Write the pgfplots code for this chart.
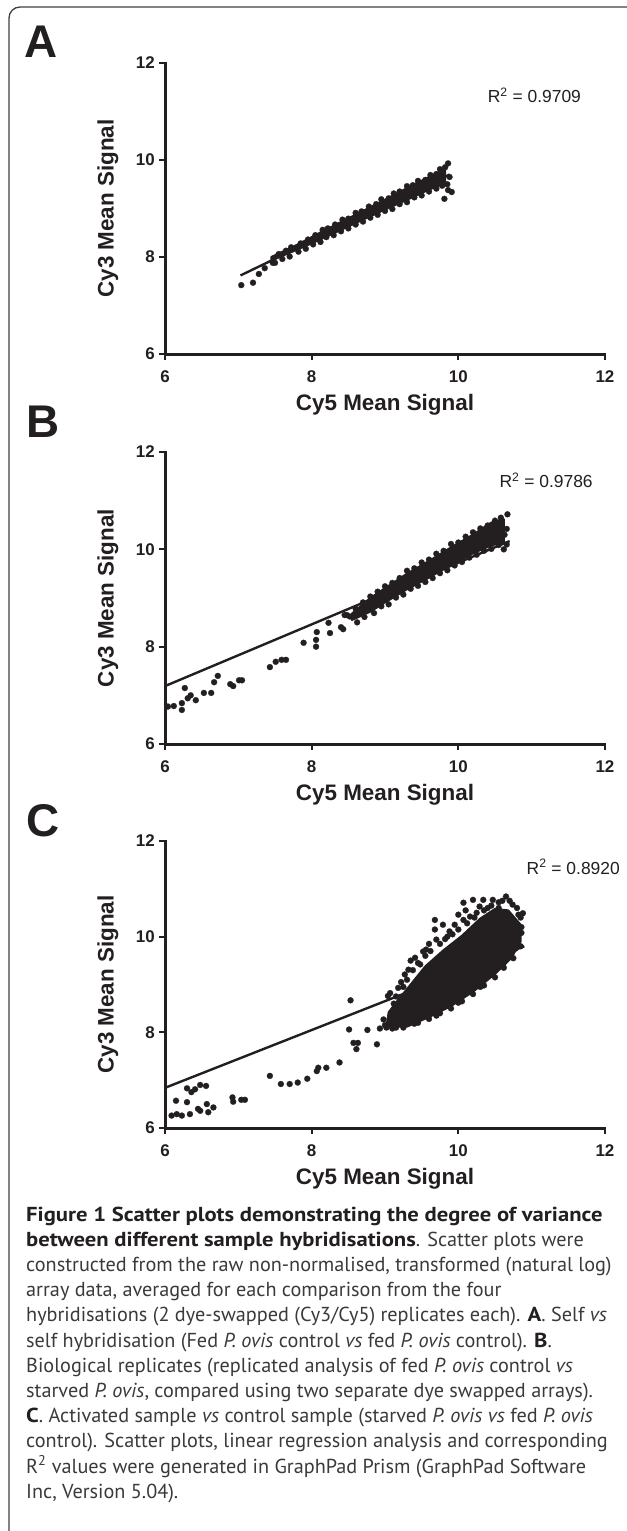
\documentclass[border=0pt]{standalone}
\usepackage{pgfplots}
\pgfplotsset{compat=1.18}
\usepackage{fontspec}
\setmainfont{Liberation Sans}
\newfontfamily\capfont{PT Sans}
\definecolor{ink}{HTML}{231F20}
\definecolor{capgray}{HTML}{3A3A3A}
\newcommand{\cb}[1]{{\bfseries\addfontfeature{FakeStretch=1.12}\color{ink}#1}}

\tikzset{rsq/.style={anchor=west, inner sep=0pt, font=\fontsize{17.5}{17.5}\selectfont, text=ink}}
\pgfplotsset{
  panel/.style={
    scale only axis, width=440bp,
    xmin=6, xmax=12, ymin=6, ymax=12,
    xtick={6,8,10,12}, ytick={6,8,10,12},
    axis lines*=left,
    axis line style={-, line width=3bp, draw=ink, line cap=rect},
    tick style={line width=2bp, draw=ink},
    tick align=outside, major tick length=6bp,
    /pgf/number format/assume math mode=true,
    ticklabel style={font=\fontsize{17}{17}\selectfont\bfseries, text=ink, inner sep=0pt},
    xticklabel style={anchor=north, yshift=-10bp},
    yticklabel style={anchor=east, xshift=-4bp},
    xlabel={Cy5 Mean Signal}, ylabel={Cy3 Mean Signal},
    every axis x label/.style={at={(axis description cs:0.5,0)}, yshift=-51bp, anchor=center,
      font=\fontsize{22.5}{22.5}\selectfont\bfseries, text=ink},
    every axis y label/.style={at={(axis description cs:0,0.5)}, xshift=-57bp, rotate=90, anchor=center,
      font=\fontsize{22.5}{22.5}\selectfont\bfseries, text=ink},
    clip=false,
  },
  dots/.style={only marks, mark=*, mark size=3bp, mark options={fill=ink, draw=ink, line width=0.2bp}},
  core/.style={fill=ink, draw=ink, line width=2bp, line join=round},
  fit/.style={ink, line width=2.4bp},
}

\begin{document}
\begin{tikzpicture}
\path[use as bounding box, fill=white] (0,0) rectangle (627bp,-1531bp);
\clip (0,0) rectangle (627bp,-1531bp);
\draw[line width=1.3bp, draw=black!75, rounded corners=11bp] (9bp,-7bp) rectangle (700bp,-1600bp);

\node[anchor=base west, inner sep=0pt, font=\fontsize{46}{46}\selectfont\bfseries, text=ink] at (24bp,-57bp) {A};
\node[anchor=base west, inner sep=0pt, font=\fontsize{46}{46}\selectfont\bfseries, text=ink] at (26bp,-437bp) {B};
\node[anchor=base west, inner sep=0pt, font=\fontsize{46}{46}\selectfont\bfseries, text=ink] at (26bp,-836bp) {C};

% Panel A
\begin{axis}[panel, height=291bp, at={(165bp,-354bp)}, anchor=south west]
\addplot[core] coordinates {
 (7.45,7.93) (7.8,8.15) (8.1,8.35) (8.4,8.56) (8.7,8.77) (9.0,8.98) (9.3,9.18) (9.6,9.39) (9.82,9.52)
 (9.82,9.80) (9.6,9.65) (9.3,9.42) (9.0,9.18) (8.7,8.95) (8.4,8.72) (8.1,8.49) (7.8,8.25) (7.45,8.00)} -- cycle;
\addplot[dots] coordinates {
 (7.55,8.06) (7.65,8.13) (7.72,8.20) (7.85,8.28) (7.95,8.36) (8.05,8.45) (8.15,8.56) (8.22,8.59)
 (8.32,8.67) (8.42,8.77) (8.50,8.79) (8.60,8.91) (8.68,8.94) (8.78,9.04) (8.88,9.09) (8.95,9.19)
 (9.05,9.21) (9.12,9.31) (9.20,9.35) (9.30,9.46) (9.38,9.48) (9.45,9.57) (9.55,9.59) (9.62,9.69)
 (9.70,9.71) (9.75,9.81) (9.82,9.85) (9.86,9.93)
 (7.50,7.88) (7.60,7.96) (7.70,8.01) (7.82,8.11) (7.92,8.17) (8.02,8.26) (8.12,8.31) (8.20,8.41)
 (8.30,8.45) (8.40,8.53) (8.50,8.59) (8.60,8.67) (8.70,8.73) (8.80,8.81) (8.90,8.87) (9.00,8.95)
 (9.10,8.99) (9.20,9.09) (9.30,9.13) (9.40,9.23) (9.50,9.27) (9.60,9.35) (9.70,9.41) (9.78,9.47)
 (9.85,9.50)
 (7.04,7.42) (7.20,7.47) (7.28,7.65) (7.36,7.77) (7.47,7.88)
 (9.81,9.20) (9.91,9.34) (9.86,9.38) (9.88,9.65)};
\addplot[fit] coordinates {(7.03,7.62) (9.88,9.70)};
\node[rsq] at (axis cs:10.40,11.34) {R\textsuperscript{2} = 0.9709};
\end{axis}

% Panel B
\begin{axis}[panel, height=292bp, at={(165bp,-744bp)}, anchor=south west]
\addplot[core] coordinates {
 (8.55,8.55) (8.8,8.72) (9.0,8.91) (9.3,9.18) (9.6,9.42) (9.9,9.68) (10.2,9.92) (10.45,10.08) (10.62,10.15)
 (10.62,10.62) (10.45,10.55) (10.2,10.30) (9.9,10.04) (9.6,9.76) (9.3,9.50) (9.0,9.20) (8.8,9.00) (8.55,8.68)} -- cycle;
\addplot[dots] coordinates {
 (8.60,8.78) (8.70,8.91) (8.80,9.03) (8.90,9.13) (9.00,9.24) (9.10,9.31) (9.20,9.41) (9.30,9.56)
 (9.40,9.61) (9.50,9.73) (9.60,9.79) (9.70,9.91) (9.80,9.97) (9.90,10.11) (10.00,10.14) (10.10,10.26)
 (10.20,10.35) (10.30,10.43) (10.40,10.49) (10.50,10.59) (10.58,10.65) (10.67,10.72)
 (8.62,8.50) (8.72,8.61) (8.85,8.69) (8.95,8.83) (9.05,8.87) (9.15,9.01) (9.25,9.07) (9.35,9.19)
 (9.45,9.25) (9.55,9.33) (9.65,9.41) (9.75,9.51) (9.85,9.57) (9.95,9.67) (10.05,9.74) (10.15,9.83)
 (10.25,9.89) (10.35,9.97) (10.45,10.01) (10.55,10.09) (10.62,10.00) (10.66,10.10) (10.63,10.30) (10.66,10.42)
 (6.04,6.77) (6.12,6.78) (6.23,6.70) (6.23,6.84) (6.27,7.15) (6.31,6.94) (6.35,7.00) (6.42,6.90)
 (6.53,7.05) (6.63,7.05) (6.67,7.27) (6.72,7.40) (6.89,7.23) (6.93,7.19) (7.01,7.31) (7.05,7.31)
 (7.43,7.58) (7.51,7.69) (7.59,7.73) (7.65,7.73) (7.89,8.08) (8.06,8.14) (8.06,8.00) (8.07,8.30)
 (8.25,8.28) (8.23,8.49) (8.40,8.40) (8.43,8.36) (8.48,8.65) (8.52,8.62) (8.45,8.65)};
\addplot[fit] coordinates {(6.00,7.19) (10.70,10.17)};
\node[rsq] at (axis cs:10.56,11.42) {R\textsuperscript{2} = 0.9786};
\end{axis}

% Panel C
\begin{axis}[panel, height=287bp, at={(165bp,-1128bp)}, anchor=south west]
\addplot[core] coordinates {
 (9.02,8.12) (9.3,8.12) (9.6,8.32) (9.9,8.55) (10.2,8.85) (10.5,9.22) (10.72,9.55) (10.85,9.90)
 (10.85,10.25) (10.68,10.55) (10.5,10.58) (10.3,10.38) (10.05,10.02) (9.8,9.72) (9.55,9.38) (9.35,9.00) (9.18,8.68) (9.05,8.42)} -- cycle;
\addplot[dots] coordinates {
 (10.07,10.71) (10.20,10.77) (10.34,10.77) (10.47,10.77) (10.65,10.84) (10.74,10.67) (10.88,10.49) (10.82,10.46)
 (10.86,10.08) (10.86,10.20) (9.68,10.35) (9.68,10.15) (9.79,10.25) (9.95,10.25) (10.00,10.46) (10.16,10.42)
 (9.41,9.56) (9.52,9.69) (9.32,9.31) (9.27,9.21) (9.18,8.93) (9.07,8.82) (9.56,9.73) (9.70,9.94)
 (9.88,10.11) (10.07,10.35) (10.29,10.63) (10.55,10.60) (10.60,10.75) (10.40,10.60) (10.25,10.50) (10.10,10.55)
 (9.85,10.00) (9.60,9.85) (9.45,9.45) (9.35,9.50) (9.22,9.05) (9.12,8.60) (10.61,9.42) (10.70,9.60)
 (10.78,9.75) (10.30,8.95) (10.00,8.62) (9.70,8.35) (9.40,8.18) (9.15,8.10) (9.10,8.24) (9.00,8.15)
 (9.15,8.75) (9.25,8.95) (9.30,9.10) (9.38,9.30) (9.48,9.42) (9.55,9.60) (9.62,9.70) (9.75,9.85)
 (9.82,9.95) (9.92,10.05) (10.00,10.15) (10.12,10.28) (10.22,10.40) (10.35,10.55) (10.45,10.65) (10.55,10.72)
 (10.70,10.75) (10.80,10.60) (10.85,10.40)
 (9.10,8.08) (9.25,8.10) (9.45,8.20) (9.60,8.28) (9.75,8.40) (9.90,8.50) (10.05,8.65) (10.20,8.80)
 (10.35,8.98) (10.50,9.15) (10.62,9.35) (10.75,9.55) (10.85,9.80)
 (6.09,6.26) (6.16,6.29) (6.23,6.26) (6.15,6.57) (6.30,6.54) (6.30,6.83) (6.36,6.75) (6.41,6.81)
 (6.48,6.90) (6.56,6.88) (6.34,6.29) (6.45,6.40) (6.48,6.36) (6.57,6.50) (6.59,6.33) (6.66,6.43)
 (6.92,6.64) (6.93,6.55) (7.04,6.59) (7.09,6.59) (7.43,7.09) (7.58,6.92) (7.70,6.92) (7.81,6.95)
 (7.94,7.03) (8.07,7.19) (8.09,7.26) (8.20,7.26) (8.38,7.37) (8.53,8.67) (8.51,8.06) (8.57,7.78)
 (8.61,7.65) (8.63,7.78) (8.76,8.05) (8.89,7.75) (8.93,8.08) (8.98,8.27) (9.02,8.10) (9.04,8.76)};
\addplot[fit] coordinates {(6.00,6.84) (10.90,9.80)};
\node[rsq] at (axis cs:10.93,11.46) {R\textsuperscript{2} = 0.8920};
\end{axis}

% caption
\begin{scope}[every node/.style={anchor=base west, inner sep=0pt, text=capgray,
    font=\capfont\fontsize{20.3}{25}\selectfont}]
\node at (26bp,-1221bp) {\cb{Figure 1 Scatter plots demonstrating the degree of variance}};
\node at (26bp,-1246.2bp) {\cb{between different sample hybridisations}. Scatter plots were};
\node at (26bp,-1271.4bp) {constructed from the raw non-normalised, transformed (natural log)};
\node at (26bp,-1296.6bp) {array data, averaged for each comparison from the four};
\node at (26bp,-1321.8bp) {hybridisations (2 dye-swapped (Cy3/Cy5) replicates each). \cb{A}. Self \textit{vs}};
\node at (26bp,-1347bp) {self hybridisation (Fed \textit{P. ovis} control \textit{vs} fed \textit{P. ovis} control). \cb{B}.};
\node at (26bp,-1372.2bp) {Biological replicates (replicated analysis of fed \textit{P. ovis} control \textit{vs}};
\node at (26bp,-1397.4bp) {starved \textit{P. ovis}, compared using two separate dye swapped arrays).};
\node at (26bp,-1422.6bp) {\cb{C}. Activated sample \textit{vs} control sample (starved \textit{P. ovis vs} fed \textit{P. ovis}};
\node at (26bp,-1447.8bp) {control). Scatter plots, linear regression analysis and corresponding};
\node at (26bp,-1473bp) {R\textsuperscript{2} values were generated in GraphPad Prism (GraphPad Software};
\node at (26bp,-1498.2bp) {Inc, Version 5.04).};
\end{scope}
\end{tikzpicture}
\end{document}
